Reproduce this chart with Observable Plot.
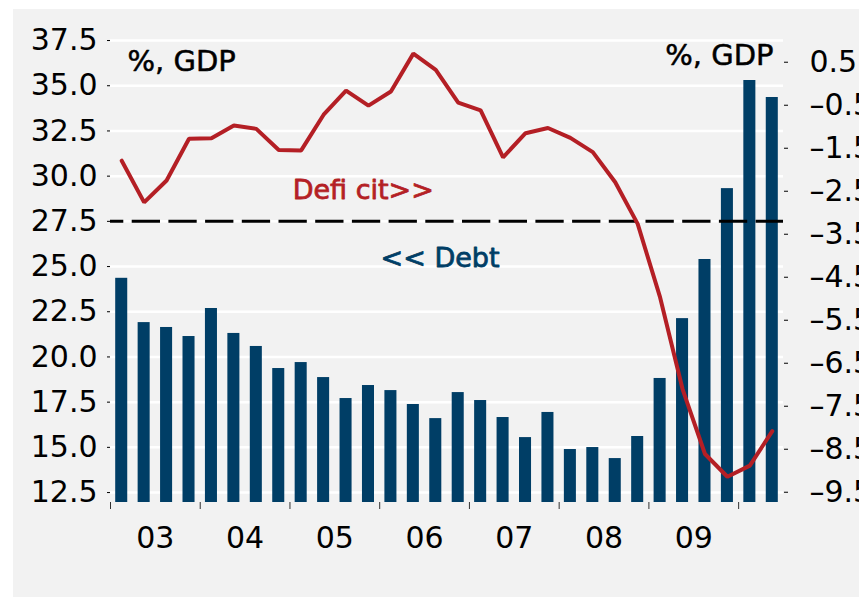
<!DOCTYPE html>
<html>
<head>
<meta charset="utf-8">
<script src="https://cdn.jsdelivr.net/npm/d3@7"></script>
<script src="https://cdn.jsdelivr.net/npm/@observablehq/plot@0.6"></script>
<style>
  body { margin: 0; background: #ffffff; }
  #chart { position: absolute; left: 13px; top: 9px; width: 846px; height: 588px; background: #f2f2f2; overflow: hidden; }
  #chart svg { overflow: visible; }
</style>
</head>
<body>
<div id="chart"></div>
<script>
const quarters = [
  "2003Q1","2003Q2","2003Q3","2003Q4",
  "2004Q1","2004Q2","2004Q3","2004Q4",
  "2005Q1","2005Q2","2005Q3","2005Q4",
  "2006Q1","2006Q2","2006Q3","2006Q4",
  "2007Q1","2007Q2","2007Q3","2007Q4",
  "2008Q1","2008Q2","2008Q3","2008Q4",
  "2009Q1","2009Q2","2009Q3","2009Q4",
  "2010Q1","2010Q2"
];
const debt = [
  24.35, 21.90, 21.63, 21.13,
  22.68, 21.30, 20.58, 19.36,
  19.69, 18.86, 17.70, 18.42,
  18.14, 17.37, 16.59, 18.03,
  17.59, 16.65, 15.54, 16.93,
  14.88, 14.99, 14.38, 15.60,
  18.81, 22.12, 25.39, 29.31,
  35.29, 34.35
];
const deficit = [
  -1.79, -2.76, -2.25, -1.28,
  -1.27, -0.97, -1.05, -1.54,
  -1.55, -0.72, -0.16, -0.51,
  -0.18, 0.70, 0.32, -0.44,
  -0.62, -1.71, -1.15, -1.03,
  -1.26, -1.59, -2.29, -3.26,
  -4.97, -7.10, -8.61, -9.14,
  -8.88, -8.08
];
const leftTicks = [12.5, 15.0, 17.5, 20.0, 22.5, 25.0, 27.5, 30.0, 32.5, 35.0, 37.5];
const rightTicks = [0.5, -0.5, -1.5, -2.5, -3.5, -4.5, -5.5, -6.5, -7.5, -8.5, -9.5];
const yearTicks = [2003, 2004, 2005, 2006, 2007, 2008, 2009, 2010];
const yearLabels = ["03", "04", "05", "06", "07", "08", "09"];
const debtReference = 27.5;

const navy = "#003e66";
const red = "#b41f25";

const qTime = q => +q.slice(0, 4) + (+q.slice(5) - 1) / 4;
const data = quarters.map((q, i) => ({ t: qTime(q), debt: debt[i], deficit: deficit[i] }));

// map the right (deficit) axis onto the left (debt) scale
const A = 35.111, B = 2.3783;
const toL = d => A + B * d;
const fromL = L => (L - A) / B;
const fmtR = v => { const r = Math.round(v * 10) / 10; return (r < 0 ? "\u2013" : "") + Math.abs(r).toFixed(1); };

const labelPos = yearLabels.map((_, i) => yearTicks[i] + 0.5);

const chart = Plot.plot({
  width: 846,
  height: 588,
  marginLeft: 97,
  marginRight: 76,
  marginTop: 22,
  marginBottom: 95,
  style: { background: "transparent", fontFamily: "DejaVu Sans", fontSize: "30px", color: "#000" },
  x: { type: "linear", domain: [2003, 2010.5], axis: null },
  y: { domain: [11.95, 38.0], axis: null },
  marks: [
    Plot.ruleY(leftTicks, { stroke: "white", strokeWidth: 2.5 }),
    Plot.rectY(data, { x1: d => d.t, x2: d => d.t + 0.25, y: "debt", fill: navy, insetLeft: 5.2, insetRight: 5.2, clip: true }),
    Plot.ruleY([debtReference], { stroke: "black", strokeWidth: 3, strokeDasharray: "28.3,8.4", strokeDashoffset: 15 }),
    Plot.line(data, { x: d => d.t + 0.125, y: d => toL(d.deficit), stroke: red, strokeWidth: 4, strokeLinejoin: "miter" }),
    Plot.axisY(leftTicks, { anchor: "left", tickSize: 3, tickPadding: 10, tickFormat: d3.format(".1f"), fontSize: 30, label: null }),
    Plot.axisY(rightTicks.map(toL), { anchor: "right", tickSize: 4, tickPadding: 22, tickFormat: L => fmtR(fromL(L)), fontSize: 30, label: null }),
    Plot.axisX(yearTicks, { anchor: "bottom", tickSize: 7, tickFormat: () => "", label: null, stroke: "#333" }),
    Plot.axisX(labelPos, { anchor: "bottom", tickSize: 0, tickPadding: 24, tickFormat: d => yearLabels[Math.floor(d) - 2003], fontSize: 30, label: null }),
    Plot.text(["%, GDP"], { text: d => d, frameAnchor: "top-left", dx: 17, dy: 30, textAnchor: "start", lineAnchor: "middle", fontSize: 29, fill: "black", stroke: "black", strokeWidth: 0.5 }),
    Plot.text(["%, GDP"], { text: d => d, frameAnchor: "top-right", dx: -10, dy: 24, textAnchor: "end", lineAnchor: "middle", fontSize: 29, fill: "black", stroke: "black", strokeWidth: 0.5 }),
    Plot.text(["Defi cit>>"], { text: d => d, x: () => 2005.03, y: () => 29.2, textAnchor: "start", lineAnchor: "middle", fill: red, stroke: red, strokeWidth: 0.8, fontSize: 27, fontFamily: "DejaVu Sans" }),
    Plot.text(["<< Debt"], { text: d => d, x: () => 2006.01, y: () => 25.44, textAnchor: "start", lineAnchor: "middle", fill: navy, stroke: navy, strokeWidth: 0.8, fontSize: 27, fontFamily: "DejaVu Sans" })
  ]
});
document.getElementById("chart").appendChild(chart);
</script>
</body>
</html>
